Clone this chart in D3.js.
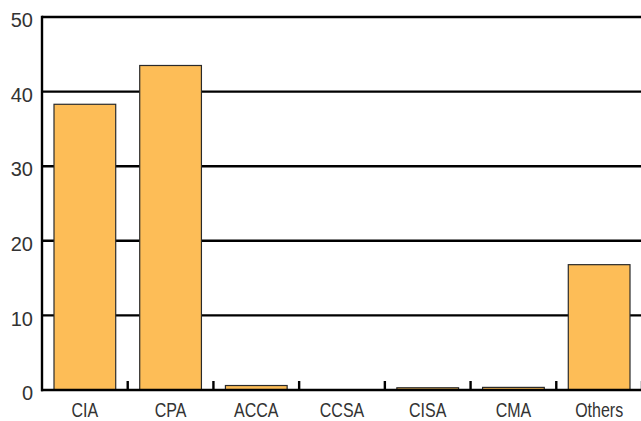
<!DOCTYPE html>
<html>
<head>
<meta charset="utf-8">
<script src="https://cdn.jsdelivr.net/npm/d3@7"></script>
<style>
html, body { margin: 0; padding: 0; background: #fff; overflow: hidden; }
svg { display: block; }
</style>
</head>
<body>
<script>
const categories = ["CIA", "CPA", "ACCA", "CCSA", "CISA", "CMA", "Others"];
const values = [38.3, 43.5, 0.6, 0.05, 0.3, 0.35, 16.8];
const yTicks = [0, 10, 20, 30, 40, 50];

const W = 641, H = 421;
const svg = d3.select("body").append("svg").attr("width", W).attr("height", H);

const x = d3.scaleBand().domain(categories).range([42, 642]).paddingInner(0.28).paddingOuter(0.14);
const y = d3.scaleLinear().domain([0, 50]).range([390, 17]);

// gridlines
svg.append("g").selectAll("line").data(yTicks.filter(d => d > 0)).join("line")
  .attr("x1", 42).attr("x2", W + 5)
  .attr("y1", d => y(d)).attr("y2", d => y(d))
  .attr("stroke", "#000").attr("stroke-width", 2.4);

// bars
svg.append("g").selectAll("rect").data(categories).join("rect")
  .attr("x", d => x(d))
  .attr("y", (d, i) => y(values[i]))
  .attr("width", x.bandwidth())
  .attr("height", (d, i) => y(0) - y(values[i]))
  .attr("fill", "#FDBD57")
  .attr("stroke", "#2a2a2a")
  .attr("stroke-width", 1.2);

// axes lines
svg.append("line").attr("x1", 42).attr("x2", 42).attr("y1", y(50) - 1.2).attr("y2", y(0) + 1.2)
  .attr("stroke", "#000").attr("stroke-width", 2.4);
svg.append("line").attr("x1", 41).attr("x2", W + 5).attr("y1", y(0)).attr("y2", y(0))
  .attr("stroke", "#000").attr("stroke-width", 2.4);

// category boundary ticks
const step = x.step();
svg.append("g").selectAll("line").data(categories).join("line")
  .attr("x1", (d, i) => 42 + step * (i + 1))
  .attr("x2", (d, i) => 42 + step * (i + 1))
  .attr("y1", y(0)).attr("y2", y(0) - 9)
  .attr("stroke", "#000").attr("stroke-width", 2.4);

// y labels
svg.append("g").selectAll("text").data(yTicks).join("text")
  .attr("x", 33).attr("y", d => y(d) + 5)
  .attr("text-anchor", "end").attr("dominant-baseline", "middle")
  .attr("font-family", "'Liberation Sans', Arial, sans-serif")
  .attr("font-size", 20).attr("fill", "#333")
  .text(d => d);

// x labels (condensed look via horizontal scale)
svg.append("g").selectAll("text").data(categories).join("text")
  .attr("transform", d => `translate(${x(d) + x.bandwidth() / 2},417) scale(0.82,1)`)
  .attr("text-anchor", "middle")
  .attr("font-family", "'Liberation Sans', Arial, sans-serif")
  .attr("font-size", 19.5).attr("fill", "#333")
  .text(d => d);
</script>
</body>
</html>
